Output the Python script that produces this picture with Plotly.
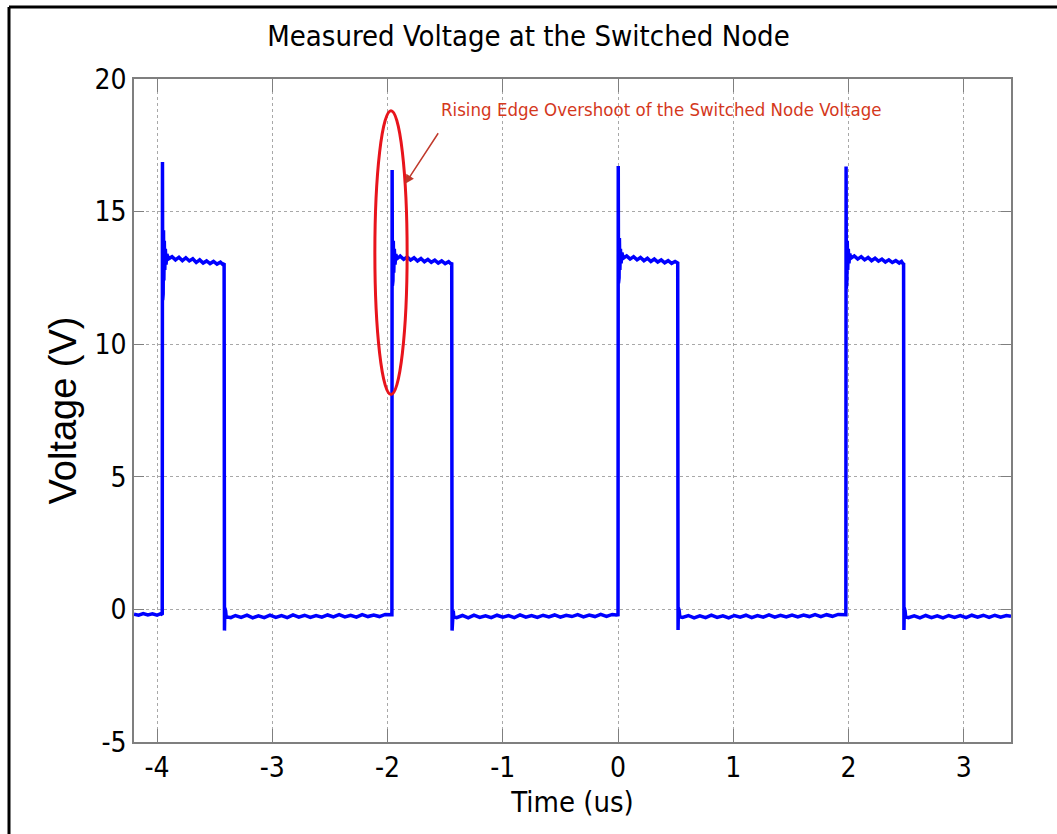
import plotly.graph_objects as go

# ---- data (time in us, voltage in V) ----
pulse1_t = [-4.20, -4.16, -4.12, -4.08, -4.04, -4.00, -3.97, -3.958, -3.955, -3.953, -3.951, -3.949, -3.947, -3.944, -3.941, -3.937, -3.933, -3.928, -3.922, -3.915, -3.90, -3.87, -3.84, -3.81, -3.78, -3.75, -3.72, -3.69, -3.66, -3.63, -3.60, -3.57, -3.54, -3.51, -3.48, -3.45, -3.43, -3.418, -3.415, -3.412, -3.409, -3.405, -3.40]
pulse1_v = [-0.18, -0.22, -0.16, -0.21, -0.17, -0.22, -0.16, -0.20, -0.20, 16.87, 11.66, 14.90, 11.90, 14.30, 12.40, 13.90, 12.80, 13.60, 13.00, 13.40, 13.22, 13.30, 13.18, 13.28, 13.15, 13.26, 13.14, 13.22, 13.08, 13.18, 13.06, 13.14, 13.04, 13.12, 13.02, 13.09, 13.01, 13.05, -0.80, 0.05, -0.35, -0.05, -0.28]

low1_t = [-3.36, -3.32, -3.27, -3.22, -3.17, -3.12, -3.07, -3.02, -2.97, -2.92, -2.87, -2.82, -2.77, -2.72, -2.67, -2.62, -2.57, -2.52, -2.47, -2.42, -2.37, -2.32, -2.27, -2.22, -2.17, -2.12, -2.07, -2.02, -1.98]
low1_v = [-0.31, -0.23, -0.30, -0.22, -0.32, -0.24, -0.31, -0.22, -0.30, -0.23, -0.31, -0.21, -0.29, -0.22, -0.30, -0.23, -0.29, -0.21, -0.28, -0.20, -0.28, -0.22, -0.29, -0.20, -0.27, -0.21, -0.27, -0.19, -0.22]

pulse2_t = [-1.966, -1.962, -1.960, -1.958, -1.956, -1.953, -1.950, -1.946, -1.941, -1.935, -1.928, -1.92, -1.89, -1.86, -1.83, -1.80, -1.77, -1.74, -1.71, -1.68, -1.65, -1.62, -1.59, -1.56, -1.53, -1.50, -1.47, -1.45, -1.443, -1.440, -1.437, -1.434, -1.430, -1.425]
pulse2_v = [-0.20, -0.20, 16.57, 12.20, 14.40, 12.40, 13.90, 12.70, 13.60, 13.00, 13.40, 13.22, 13.32, 13.20, 13.29, 13.17, 13.26, 13.14, 13.23, 13.11, 13.20, 13.09, 13.17, 13.06, 13.14, 13.04, 13.11, 13.03, 13.08, -0.80, 0.05, -0.35, -0.05, -0.28]

low2_t = [-1.40, -1.35, -1.30, -1.25, -1.20, -1.15, -1.10, -1.05, -1.00, -0.95, -0.90, -0.85, -0.80, -0.75, -0.70, -0.65, -0.60, -0.55, -0.50, -0.45, -0.40, -0.35, -0.30, -0.25, -0.20, -0.15, -0.10, -0.05, -0.015]
low2_v = [-0.31, -0.23, -0.32, -0.22, -0.30, -0.24, -0.31, -0.22, -0.29, -0.23, -0.31, -0.21, -0.29, -0.23, -0.30, -0.22, -0.28, -0.21, -0.29, -0.22, -0.27, -0.20, -0.28, -0.21, -0.27, -0.19, -0.26, -0.19, -0.21]

pulse3_t = [-0.004, 0.000, 0.002, 0.004, 0.006, 0.009, 0.012, 0.016, 0.021, 0.027, 0.034, 0.045, 0.075, 0.105, 0.135, 0.165, 0.195, 0.225, 0.255, 0.285, 0.315, 0.345, 0.375, 0.405, 0.435, 0.465, 0.495, 0.512, 0.518, 0.521, 0.524, 0.527, 0.531, 0.536]
pulse3_v = [-0.20, -0.20, 16.72, 12.30, 14.80, 12.50, 14.00, 12.80, 13.60, 13.05, 13.45, 13.24, 13.33, 13.21, 13.30, 13.18, 13.27, 13.15, 13.24, 13.12, 13.21, 13.10, 13.18, 13.07, 13.15, 13.05, 13.12, 13.04, 13.06, -0.78, 0.05, -0.35, -0.05, -0.28]

low3_t = [0.56, 0.61, 0.66, 0.71, 0.76, 0.81, 0.86, 0.91, 0.96, 1.01, 1.06, 1.11, 1.16, 1.21, 1.26, 1.31, 1.36, 1.41, 1.46, 1.51, 1.56, 1.61, 1.66, 1.71, 1.76, 1.81, 1.86, 1.91, 1.96]
low3_v = [-0.30, -0.23, -0.32, -0.24, -0.31, -0.22, -0.30, -0.24, -0.32, -0.23, -0.29, -0.22, -0.31, -0.23, -0.29, -0.21, -0.29, -0.22, -0.28, -0.21, -0.28, -0.21, -0.27, -0.20, -0.27, -0.20, -0.26, -0.19, -0.22]

pulse4_t = [1.973, 1.977, 1.979, 1.981, 1.983, 1.986, 1.989, 1.993, 1.998, 2.004, 2.011, 2.02, 2.05, 2.08, 2.11, 2.14, 2.17, 2.20, 2.23, 2.26, 2.29, 2.32, 2.35, 2.38, 2.41, 2.44, 2.46, 2.472, 2.478, 2.481, 2.484, 2.487, 2.491, 2.496]
pulse4_v = [-0.20, -0.20, 16.70, 12.10, 14.60, 12.40, 13.90, 12.80, 13.60, 13.05, 13.42, 13.24, 13.33, 13.21, 13.30, 13.18, 13.27, 13.15, 13.24, 13.13, 13.21, 13.10, 13.18, 13.08, 13.15, 13.06, 13.12, 13.04, 13.06, -0.78, 0.05, -0.35, -0.05, -0.28]

low4_t = [2.52, 2.57, 2.62, 2.67, 2.72, 2.77, 2.82, 2.87, 2.92, 2.97, 3.02, 3.07, 3.12, 3.17, 3.22, 3.27, 3.32, 3.37, 3.41]
low4_v = [-0.31, -0.24, -0.32, -0.23, -0.31, -0.24, -0.32, -0.23, -0.30, -0.23, -0.31, -0.22, -0.29, -0.22, -0.30, -0.22, -0.29, -0.23, -0.26]

x_ticks = [-4, -3, -2, -1, 0, 1, 2, 3]
x_tick_labels = ["-4", "-3", "-2", "-1", "0", "1", "2", "3"]
y_ticks = [-5, 0, 5, 10, 15, 20]
y_tick_labels = ["-5", "0", "5", "10", "15", "20"]

title_text = "Measured Voltage at the Switched Node"
x_label = "Time (us)"
y_label = "Voltage (V)"
note_text = "Rising Edge Overshoot of the Switched Node Voltage"

# highlighted region (data units) and arrow tip
ellipse_x = [-2.11, -1.83]
ellipse_y = [8.1, 18.8]
arrow_tip = [-1.847, 16.05]
note_pos = [0.38, 18.85]

time_us = pulse1_t + low1_t + pulse2_t + low2_t + pulse3_t + low3_t + pulse4_t + low4_t
volt_v = pulse1_v + low1_v + pulse2_v + low2_v + pulse3_v + low3_v + pulse4_v + low4_v

NARROW = "Liberation Sans Narrow, DejaVu Sans Condensed, Arial Narrow, Roboto Condensed, sans-serif"

fig = go.Figure()
fig.add_trace(go.Scatter(x=time_us, y=volt_v, mode="lines",
                         line=dict(color="#0000ff", width=3.5),
                         showlegend=False, hoverinfo="skip"))

W, H = 1057, 834
L, R, T, B = 134, 46, 79, 92
pw, ph = W - L - R, H - T - B

axis_common = dict(showline=True, linecolor="#7f7f7f", linewidth=1.5, mirror="ticks",
                   ticks="inside", tickcolor="#7f7f7f", tickwidth=1,
                   showgrid=True, gridcolor="#a8a8a8", griddash="dot", gridwidth=1,
                   zeroline=False,
                   tickfont=dict(family=NARROW, size=28, color="black"))

fig.update_layout(
    width=W, height=H,
    margin=dict(l=L, r=R, t=T, b=B),
    paper_bgcolor="white", plot_bgcolor="white",
    title=dict(text=title_text, x=0.5, xanchor="center", y=1 - 36 / H, yanchor="middle",
               font=dict(family=NARROW, size=29, color="black")),
    xaxis=dict(range=[-4.2, 3.41], tickvals=x_ticks, ticktext=x_tick_labels, ticklen=13,
               title=dict(text=x_label, font=dict(family=NARROW, size=29, color="black"), standoff=8),
               **axis_common),
    yaxis=dict(range=[-5, 20], tickvals=y_ticks, ticktext=y_tick_labels, ticklen=10,
               title=dict(text=y_label, font=dict(family="Liberation Sans, Arial, sans-serif", size=38, color="black"), standoff=6),
               **axis_common),
    shapes=[
        dict(type="circle", xref="x", yref="y",
             x0=ellipse_x[0], x1=ellipse_x[1], y0=ellipse_y[0], y1=ellipse_y[1],
             line=dict(color="#e8141c", width=3)),
        dict(type="line", xref="paper", yref="paper",
             x0=(9 - L) / pw, x1=(W - L) / pw,
             y0=1 + (T - 7) / ph, y1=1 + (T - 7) / ph,
             line=dict(color="black", width=3), layer="above"),
        dict(type="line", xref="paper", yref="paper",
             x0=(9 - L) / pw, x1=(9 - L) / pw,
             y0=1 + (T - 7) / ph, y1=-(H - T - ph) / ph,
             line=dict(color="black", width=3), layer="above"),
    ],
    annotations=[
        dict(x=note_pos[0], y=note_pos[1], xref="x", yref="y", text=note_text,
             showarrow=False, font=dict(family=NARROW, size=18.5, color="#d4381c")),
        dict(x=arrow_tip[0], y=arrow_tip[1], xref="x", yref="y", text="",
             showarrow=True, ax=34, ay=-52, arrowhead=2, arrowsize=1.2,
             arrowwidth=1.5, arrowcolor="#c0392b"),
    ],
)

fig.write_html("out.html", config={"displayModeBar": False})
